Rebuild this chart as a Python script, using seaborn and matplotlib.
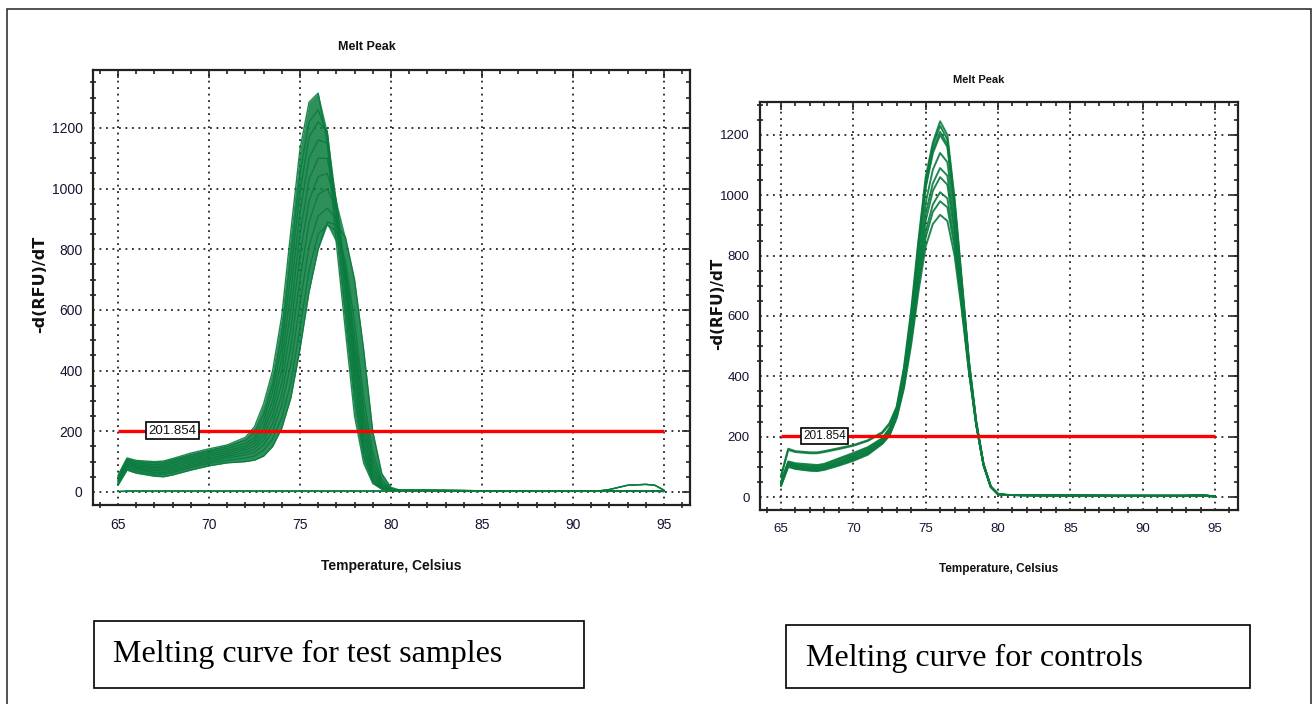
import numpy as np
import pandas as pd
import matplotlib
matplotlib.use("Agg")
import matplotlib.pyplot as plt
from matplotlib import font_manager
from matplotlib.patches import Rectangle
from matplotlib.ticker import MultipleLocator
import seaborn as sns

# temperature grid of the exported melt data (Celsius)
T_HEAD = [65, 65.5, 66, 67, 67.5, 68, 69, 70, 71, 72, 72.5, 73, 73.5, 74, 74.5,
          75, 75.5, 76, 76.5, 77, 77.5, 78, 78.5, 79, 79.5, 80, 80.5]
T_TAIL = [82, 85, 88, 90, 91.5, 92, 93, 94, 94.5, 95]

# -d(RFU)/dT, test samples
test_1 = [55, 112, 104, 100, 102, 110, 128, 142, 155, 180, 215, 290, 400, 580, 860, 1130, 1285, 1315, 1150, 820, 530, 250, 95, 28, 9, 6, 5]
test_2 = [50, 108, 100, 96, 98, 106, 122, 136, 150, 170, 195, 255, 355, 520, 780, 1050, 1220, 1260, 1180, 880, 590, 310, 120, 35, 10, 6, 5]
test_3 = [45, 104, 95, 90, 92, 100, 116, 130, 143, 160, 180, 235, 330, 480, 720, 990, 1170, 1220, 1190, 920, 640, 350, 140, 40, 11, 6, 5]
test_4 = [40, 100, 90, 85, 86, 94, 110, 124, 136, 152, 170, 215, 300, 440, 660, 920, 1100, 1160, 1150, 950, 680, 390, 160, 48, 13, 7, 5]
test_5 = [38, 96, 86, 80, 81, 88, 104, 118, 130, 145, 160, 200, 275, 400, 600, 850, 1030, 1100, 1100, 960, 700, 420, 185, 58, 15, 7, 5]
test_6 = [35, 92, 82, 75, 76, 82, 98, 112, 124, 138, 150, 185, 250, 360, 540, 780, 960, 1040, 1050, 950, 720, 450, 210, 70, 18, 8, 5]
test_7 = [32, 88, 78, 70, 70, 76, 92, 106, 118, 130, 140, 170, 225, 320, 480, 700, 890, 980, 1000, 930, 730, 480, 240, 85, 22, 8, 5]
test_8 = [28, 84, 74, 64, 64, 70, 86, 100, 112, 122, 130, 155, 200, 285, 420, 620, 810, 910, 935, 900, 740, 510, 270, 105, 28, 9, 5]
test_9 = [25, 78, 68, 58, 58, 64, 80, 94, 104, 112, 118, 138, 175, 245, 360, 540, 730, 850, 880, 860, 760, 560, 310, 130, 38, 11, 5]
test_10 = [22, 72, 62, 52, 50, 56, 72, 86, 96, 100, 105, 118, 150, 210, 310, 470, 660, 800, 890, 880, 840, 700, 470, 200, 60, 15, 6]
test_tail_flat = [5, 4, 3, 3, 3, 3, 4, 4, 3, 2]
test_tail_bump = [5, 4, 3, 3, 4, 8, 22, 25, 22, 6]
bump_wells = ["test_2", "test_5", "test_8"]

# no-template wells, flat near zero
ntc_1 = [2, 4, 4, 4, 4, 4, 4, 4, 4, 4, 4, 4, 4, 4, 4, 4, 4, 4, 4, 4, 4, 4, 4, 4, 4, 4, 4, 4, 4, 4, 4, 4, 4, 4, 4, 4, 3]
ntc_2 = [1, 2, 2, 2, 2, 2, 2, 2, 2, 2, 2, 2, 2, 2, 2, 2, 2, 2, 2, 2, 2, 2, 2, 2, 2, 2, 2, 2, 2, 2, 2, 2, 2, 2, 2, 2, 1]

# controls (right panel)
ctrl_1 = [70, 160, 152, 148, 148, 152, 162, 172, 188, 215, 245, 300, 430, 620, 850, 1060, 1175, 1245, 1200, 990, 720, 450, 250, 110, 35, 10, 7]
ctrl_2 = [66, 156, 149, 145, 145, 149, 159, 170, 186, 212, 240, 295, 420, 600, 820, 1025, 1140, 1200, 1160, 960, 700, 440, 245, 108, 34, 10, 7]
ctrl_3 = [50, 118, 112, 108, 106, 110, 128, 146, 165, 195, 228, 290, 415, 600, 835, 1045, 1165, 1230, 1185, 975, 710, 445, 246, 109, 34, 10, 7]
ctrl_4 = [48, 115, 108, 104, 103, 107, 125, 142, 162, 192, 225, 285, 405, 590, 820, 1030, 1150, 1210, 1170, 965, 700, 440, 244, 108, 34, 10, 7]
ctrl_5 = [46, 112, 105, 100, 99, 103, 120, 138, 158, 188, 220, 280, 395, 570, 785, 975, 1085, 1140, 1110, 925, 680, 432, 242, 107, 34, 10, 7]
ctrl_6 = [44, 110, 103, 97, 96, 100, 116, 134, 154, 185, 216, 276, 388, 555, 760, 940, 1040, 1090, 1065, 895, 665, 428, 241, 107, 34, 10, 7]
ctrl_7 = [42, 108, 100, 94, 93, 97, 113, 130, 150, 182, 212, 272, 382, 545, 740, 915, 1015, 1060, 1035, 875, 655, 424, 240, 106, 34, 10, 7]
ctrl_8 = [40, 104, 97, 91, 90, 94, 110, 126, 146, 180, 209, 268, 374, 530, 715, 880, 970, 1010, 990, 845, 640, 420, 239, 106, 34, 10, 7]
ctrl_9 = [38, 102, 95, 89, 88, 92, 107, 123, 143, 178, 206, 265, 368, 520, 700, 860, 945, 980, 960, 828, 632, 416, 238, 106, 34, 10, 7]
ctrl_10 = [36, 100, 93, 87, 86, 90, 104, 120, 140, 176, 203, 262, 360, 505, 680, 830, 905, 935, 915, 800, 618, 410, 237, 105, 34, 10, 7]
ctrl_tail = [6, 5, 4, 4, 4, 4, 4, 5, 4, 2]

threshold = 201.854
x_ticks = [65, 70, 75, 80, 85, 90, 95]
y_ticks = [0, 200, 400, 600, 800, 1000, 1200]
panel_titles = ["Melt Peak", "Melt Peak"]
captions = ["Melting curve for test samples", "Melting curve for controls"]

GREEN = "#0a7b3e"
names = {f.name for f in font_manager.fontManager.ttflist}
NARROW = "Liberation Sans Narrow" if "Liberation Sans Narrow" in names else "Liberation Sans"

temps = T_HEAD + T_TAIL
rows = []
test_curves = {"test_%d" % (i + 1): c for i, c in enumerate(
    [test_1, test_2, test_3, test_4, test_5, test_6, test_7, test_8, test_9, test_10])}
for name, head in test_curves.items():
    tail = test_tail_bump if name in bump_wells else test_tail_flat
    for t, v in zip(temps, head + tail):
        rows.append(("test", name, t, v))
for name, vals in [("ntc_1", ntc_1), ("ntc_2", ntc_2)]:
    for t, v in zip(temps, vals):
        rows.append(("test", name, t, v))
ctrl_curves = [ctrl_1, ctrl_2, ctrl_3, ctrl_4, ctrl_5, ctrl_6, ctrl_7, ctrl_8, ctrl_9, ctrl_10]
for i, head in enumerate(ctrl_curves):
    for t, v in zip(temps, head + ctrl_tail):
        rows.append(("ctrl", "ctrl_%d" % (i + 1), t, v))
df = pd.DataFrame(rows, columns=["panel", "well", "temp", "rfu"])

sns.set_theme(style="white")
plt.rcParams["font.family"] = [NARROW, "DejaVu Sans"]

fig = plt.figure(figsize=(13.13, 7.04), dpi=100)
W, H = 1313, 704


def px_axes(l, t, r, b):
    return fig.add_axes([l / W, 1 - b / H, (r - l) / W, (b - t) / H])


ax1 = px_axes(93, 70, 690, 505)
ax2 = px_axes(760, 102, 1238, 510)


def style_axes(ax, xlim, ylim, fs):
    ax.set_xlim(*xlim)
    ax.set_ylim(*ylim)
    ax.set_xticks(x_ticks)
    ax.set_yticks(y_ticks)
    ax.xaxis.set_minor_locator(MultipleLocator(1))
    ax.yaxis.set_minor_locator(MultipleLocator(50))
    ax.tick_params(which="major", direction="inout", length=9, width=1.2, colors="#111",
                   labelsize=fs, labelcolor="#141433")
    ax.tick_params(axis="x", which="major", pad=5)
    ax.tick_params(axis="y", which="major", pad=3)
    ax.tick_params(which="minor", direction="inout", length=5, width=1.1, colors="#111",
                   bottom=True, left=True)
    ax.grid(True, which="major", color="#222", linestyle=(0, (1, 2.6)), linewidth=1.3)
    for s in ax.spines.values():
        s.set_linewidth(1.6)
        s.set_color("#222")
        s.set_visible(True)
    top = ax.secondary_xaxis("top")
    top.set_xticks(x_ticks)
    top.xaxis.set_minor_locator(MultipleLocator(1))
    top.tick_params(which="both", direction="in", labeltop=False, width=1.1, colors="#111")
    top.tick_params(which="major", length=6)
    top.tick_params(which="minor", length=3)
    right = ax.secondary_yaxis("right")
    right.set_yticks(y_ticks)
    right.yaxis.set_minor_locator(MultipleLocator(50))
    right.tick_params(which="both", direction="in", labelright=False, width=1.1, colors="#111")
    right.tick_params(which="major", length=6)
    right.tick_params(which="minor", length=3)


style_axes(ax1, (63.63, 96.43), (-43, 1391), 10)
style_axes(ax2, (63.55, 96.59), (-43, 1309), 9.5)

# dense band of the test wells
band = np.array([c + test_tail_flat for c in test_curves.values()])
ax1.fill_between(temps, band.min(axis=0), band.max(axis=0), color=GREEN, alpha=0.85, lw=0, zorder=2)

sns.lineplot(data=df[df.panel == "test"], x="temp", y="rfu", units="well", estimator=None,
             color=GREEN, lw=1.0, alpha=0.9, ax=ax1, zorder=3)
sns.lineplot(data=df[df.panel == "ctrl"], x="temp", y="rfu", units="well", estimator=None,
             color=GREEN, lw=1.4, alpha=0.9, ax=ax2, zorder=3)

for ax, fs_box, xl_fs in [(ax1, 9.5, 10), (ax2, 8.5, 8.5)]:
    ax.hlines(threshold, temps[0], temps[-1], color="#ff0000", lw=2.4, zorder=4)
    ax.text(68.0, threshold, "%.3f" % threshold, ha="center", va="center", fontsize=fs_box,
            color="#111", zorder=6,
            bbox=dict(boxstyle="square,pad=0.18", fc="white", ec="black", lw=1.2))
    ax.set_xlabel("Temperature, Celsius", fontsize=xl_fs, fontweight="bold", color="#111", labelpad=0)
    ax.set_ylabel("")

ax1.xaxis.set_label_coords(0.5, -0.125)
ax2.xaxis.set_label_coords(0.5, -0.13)

fig.text(367 / W, 1 - 47 / H, panel_titles[0], ha="center", va="center", fontsize=9,
         fontweight="bold", color="#111")
fig.text(979 / W, 1 - 80 / H, panel_titles[1], ha="center", va="center", fontsize=8,
         fontweight="bold", color="#111")
fig.text(40 / W, 1 - 284 / H, "-d(RFU)/dT", rotation=90, ha="center", va="center",
         fontsize=11.5, fontweight="bold", family="DejaVu Sans", color="#111")
fig.text(718 / W, 1 - 304 / H, "-d(RFU)/dT", rotation=90, ha="center", va="center",
         fontsize=11, fontweight="bold", family="DejaVu Sans", color="#111")

# caption boxes
for (l, t, r, b), (tx, ty), text in [((94, 621, 584, 688), (113, 662), captions[0]),
                                      ((786, 625, 1250, 688), (806, 666), captions[1])]:
    fig.patches.append(Rectangle((l / W, 1 - b / H), (r - l) / W, (b - t) / H,
                                 transform=fig.transFigure, fill=False, ec="black", lw=1.2))
    fig.text(tx / W, 1 - ty / H, text, ha="left", va="baseline", fontsize=23,
             family="Liberation Serif", color="black")

# outer frame of the figure panel
fig.patches.append(Rectangle((7 / W, -0.02), (1311 - 7) / W, 1.02 - 9 / H,
                             transform=fig.transFigure, fill=False, ec="#333", lw=1.2))

fig.savefig("out.png", dpi=100, facecolor="white")
